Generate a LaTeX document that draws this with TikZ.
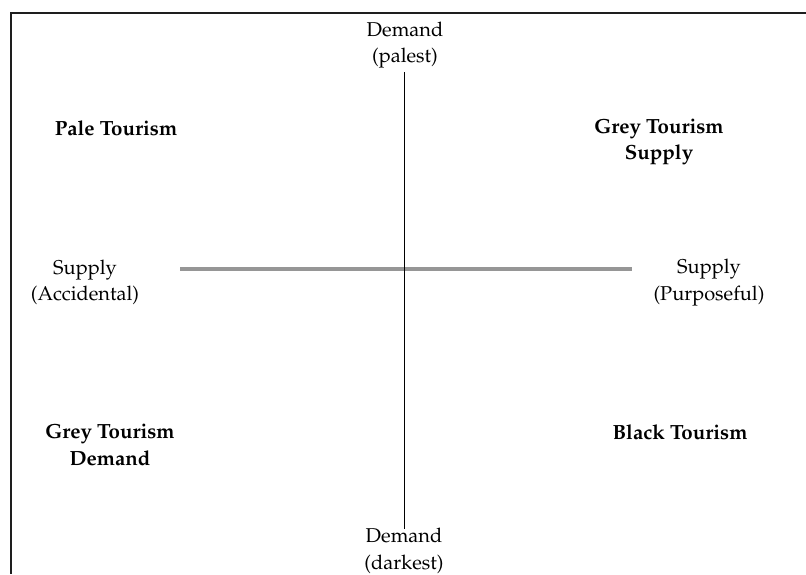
\documentclass[tikz,border=0pt]{standalone}
\usepackage[T1]{fontenc}
\renewcommand{\rmdefault}{ppl}
\begin{document}
\begin{tikzpicture}[x=1pt,y=-1pt,
  lbl/.style={align=center,inner sep=0pt,font=\fontsize{20}{26.5}\selectfont},
  blbl/.style={lbl,font=\fontsize{20.5}{26.5}\selectfont\bfseries},
  frame/.style={line width=1.5pt,color={rgb,255:red,30;green,30;blue,30}},
  axisv/.style={line width=1pt,color=black},
  axish/.style={line width=3.5pt,color={rgb,255:red,150;green,150;blue,150}}]
\useasboundingbox (0,0) rectangle (806,574);
\draw[frame] (806,13) -- (11,13) -- (11,574);
% labels
\node[lbl] (dtop) at (405,45) {Demand\\(palest)};
\node[lbl] (dbot) at (404,551) {Demand\\(darkest)};
\node[lbl] (sacc) at (85,282.5) {Supply\\(Accidental)};
\node[lbl] (spur) at (709,282.5) {Supply\\(Purposeful)};
\node[blbl] (pale) at (116,128) {Pale Tourism};
\node[blbl] (greys) at (659,142) {Grey Tourism\\Supply};
\node[blbl] (greyd) at (110,445) {Grey Tourism\\Demand};
\node[blbl] (black) at (680,432) {Black Tourism};
% axes
\coordinate (vt) at (404,72);
\coordinate (vb) at (404,529);
\coordinate (hl) at (180,269);
\coordinate (hr) at (632,269);
\draw[axish] (hl) -- (hr);
\draw[axisv] (vt) -- (vb);
\end{tikzpicture}
\end{document}
